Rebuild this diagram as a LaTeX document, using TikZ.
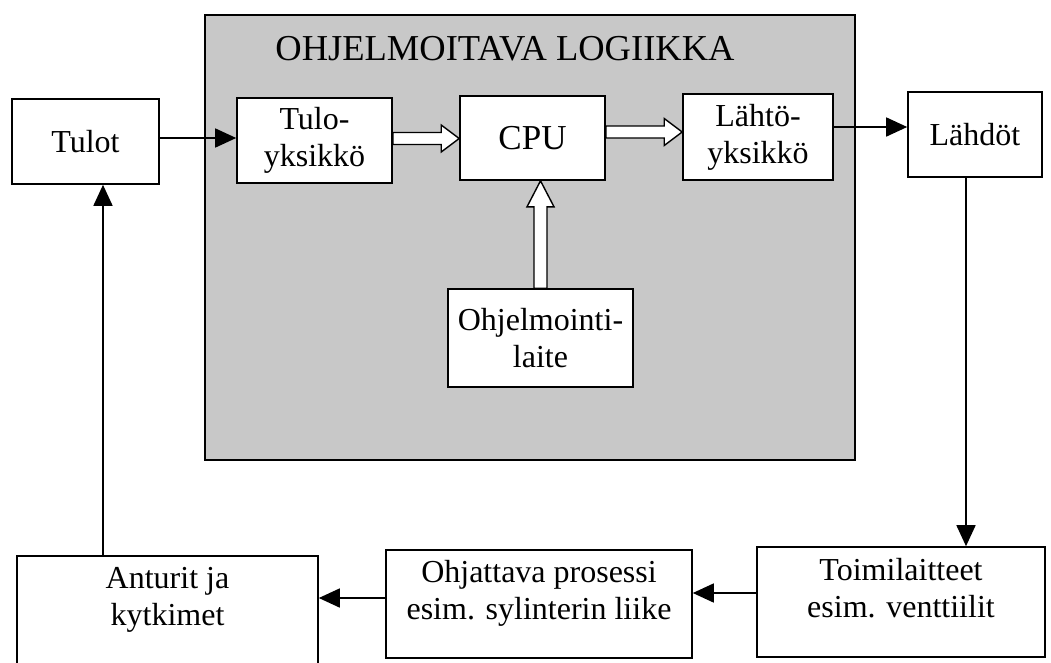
\documentclass[tikz,border=0pt]{standalone}
\usepackage{fontspec}
\setmainfont{Liberation Serif}
\usetikzlibrary{arrows.meta,calc}
\definecolor{plcgray}{RGB}{200,200,200}
\tikzstyle{block} = [rectangle, draw, line width=1.6pt, fill=white, align=center, inner sep=2pt, font=\fontsize{32}{37}\selectfont]
\tikzstyle{low} = [text depth=28pt]
\tikzstyle{line} = [draw, line width=1.6pt, -{Triangle[length=21pt,width=19pt]}]
\tikzstyle{hollow} = [draw, fill=white, line width=1.4pt, to path={let \p1=(\tikztostart), \p2=(\tikztotarget) in (\x1,\y1+6pt) -- (\x2-18pt,\y1+6pt) -- (\x2-18pt,\y1+13.5pt) -- (\x2,\y1) -- (\x2-18pt,\y1-13.5pt) -- (\x2-18pt,\y1-6pt) -- (\x1,\y1-6pt) -- cycle}]
\tikzstyle{hollowup} = [draw, fill=white, line width=1.4pt, to path={let \p1=(\tikztostart), \p2=(\tikztotarget) in (\x1-6.5pt,\y1) -- (\x1-6.5pt,\y2-26pt) -- (\x1-13.5pt,\y2-26pt) -- (\x1,\y2) -- (\x1+13.5pt,\y2-26pt) -- (\x1+6.5pt,\y2-26pt) -- (\x1+6.5pt,\y1) -- cycle}]

\begin{document}
\begin{tikzpicture}[x=1pt, y=-1pt]
  \useasboundingbox (0,0) rectangle (1051,662);
  % the programmable logic
  \node [draw, line width=1.2pt, fill=plcgray, minimum width=650pt, minimum height=445pt, inner sep=0pt] (plc) at (530,237.5) {};
  \node [font=\fontsize{36.5}{40}\selectfont] (title) at (505,49) {OHJELMOITAVA LOGIIKKA};

  \node [block, minimum width=147pt, minimum height=85pt] (tulot) at (85.5,141.5) {Tulot};
  \node [block, minimum width=155pt, minimum height=85pt] (tuloyks) at (314.5,140.5) {Tulo-\\yksikkö};
  \node [block, minimum width=145pt, minimum height=84pt, font=\fontsize{35}{40}\selectfont] (cpu) at (532.5,138) {CPU};
  \node [block, minimum width=150pt, minimum height=86pt] (lahtoyks) at (758,137) {Lähtö-\\yksikkö};
  \node [block, minimum width=134pt, minimum height=85pt] (lahdot) at (975,134.5) {Lähdöt};
  \node [block, minimum width=185pt, minimum height=98pt] (ohjlaite) at (540.5,338) {Ohjelmointi-\\laite};
  % the process loop
  \node [block, low, minimum width=288pt, minimum height=110pt] (toimi) at (901,602) {Toimilaitteet\\esim. venttiilit};
  \node [block, low, minimum width=306pt, minimum height=108pt] (prosessi) at (539,604) {Ohjattava prosessi\\esim. sylinterin liike};
  \node [block, low, minimum width=301pt, minimum height=108pt] (anturit) at (167.5,610) {Anturit ja\\kytkimet};

  \path [hollow] ([yshift=2pt]tuloyks.east) to ([yshift=2pt]tuloyks.east -| cpu.west);
  \path [hollow] ([yshift=6pt]cpu.east) to ([yshift=6pt]cpu.east -| lahtoyks.west);
  \path [hollowup] (ohjlaite.north) to (ohjlaite.north |- cpu.south);

  \path [line] ([yshift=3.5pt]tulot.east) -- ([yshift=3.5pt]tulot.east -| tuloyks.west);
  \path [line] ([yshift=10pt]lahtoyks.east) -- ([yshift=10pt]lahtoyks.east -| lahdot.west);
  \path [line] ([xshift=-9pt]lahdot.south) -- ([xshift=-9pt]lahdot.south |- toimi.north);
  \path [line] ([yshift=9pt]toimi.west) -- ([yshift=9pt]toimi.west -| prosessi.east);
  \path [line] ([yshift=6pt]prosessi.west) -- ([yshift=6pt]prosessi.west -| anturit.east);
  \path [line] ([xshift=-64.5pt]anturit.north) -- ([xshift=-64.5pt]anturit.north |- tulot.south);
\end{tikzpicture}
\end{document}
